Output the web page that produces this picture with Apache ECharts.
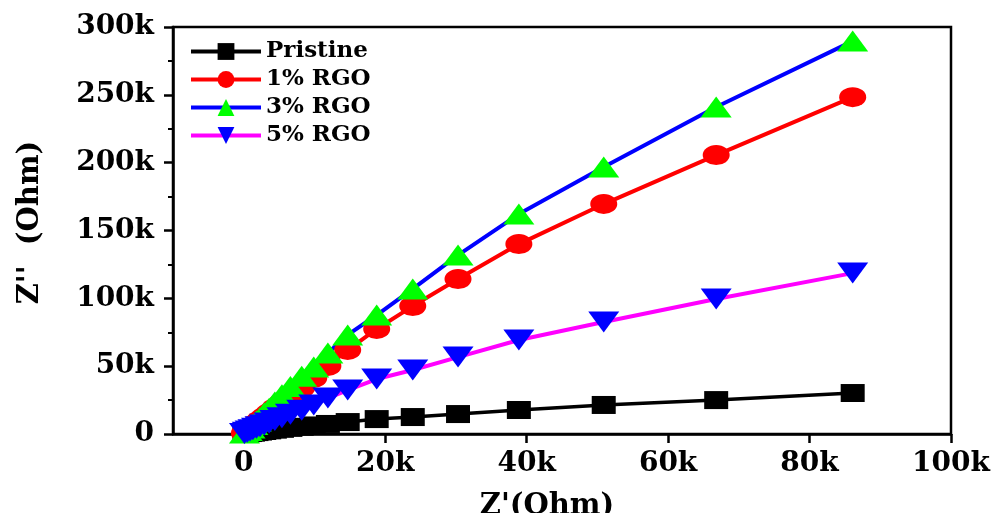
<!DOCTYPE html>
<html>
<head>
<meta charset="utf-8">
<script src="https://cdn.jsdelivr.net/npm/echarts@6/dist/echarts.min.js"></script>
<style>
  html, body { margin: 0; padding: 0; background: #fff; }
  #chart { width: 1000px; height: 513px; }
</style>
</head>
<body>
<div id="chart"></div>
<script>
// Z' values (Ohm), shared by all samples
const zReal = [86100, 66800, 50900, 38900, 30300, 23900, 18800, 14700, 11900, 9900, 8200, 6600, 5400, 4400, 3600, 2900, 2300, 1800, 1300, 900, 500, 100];

// Z'' values (Ohm)
const pristine = [30200, 25000, 21400, 17700, 14700, 12500, 11000, 8800, 7400, 6300, 5300, 4500, 3800, 3200, 2700, 2200, 1800, 1400, 1000, 700, 400, 100];
const rgo1 = [248300, 205600, 169500, 140000, 114200, 94300, 77400, 61900, 50100, 41300, 34000, 28000, 23000, 19000, 15500, 12500, 10000, 7800, 5800, 3800, 2200, 600];
const rgo3 = [289600, 241000, 196800, 162100, 131900, 106900, 87700, 73000, 59700, 49400, 42500, 35000, 29000, 23500, 19000, 15500, 12000, 9500, 7000, 4500, 2500, 800];
const rgo5 = [118600, 99500, 82500, 69300, 56700, 47200, 40500, 32400, 26500, 21400, 17500, 14500, 12000, 10000, 8200, 6700, 5400, 4200, 3100, 2200, 1300, 400];

const seriesNames = ['Pristine', '1% RGO', '3% RGO', '5% RGO'];
const xTicks = [0, 20000, 40000, 60000, 80000, 100000];

const font = 'DejaVu Serif';

function pairs(ys) {
  return zReal.map((x, i) => [x, ys[i]]);
}

function kFmt(v) {
  return v === 0 ? '0' : (v / 1000) + 'k';
}

const chart = echarts.init(document.getElementById('chart'));

chart.setOption({
  backgroundColor: '#fff',
  animation: false,
  grid: {
    left: 173,
    right: 49,
    top: 27,
    bottom: 79,
    outerBoundsMode: 'none',
    containLabel: false,
    show: true,
    borderColor: '#000',
    borderWidth: 2.5
  },
  legend: {
    left: 184,
    top: 35,
    orient: 'vertical',
    itemWidth: 70,
    itemHeight: 21,
    itemGap: 5,
    lineStyle: { width: 4 },
    textStyle: {
      fontFamily: font,
      fontWeight: 'bold',
      fontSize: 23,
      color: '#000'
    },
    data: seriesNames
  },
  xAxis: {
    type: 'value',
    min: -10000,
    max: 100000,
    splitLine: { show: false },
    axisLine: { onZero: false, lineStyle: { color: '#000', width: 2.5 } },
    axisTick: {
      customValues: xTicks,
      length: 9,
      lineStyle: { color: '#000', width: 2.5 }
    },
    axisLabel: {
      customValues: xTicks,
      formatter: kFmt,
      margin: 16,
      fontFamily: font,
      fontWeight: 'bold',
      fontSize: 28,
      color: '#000'
    },
    name: "Z'(Ohm)",
    nameLocation: 'middle',
    nameGap: 58,
    nameTextStyle: {
      fontFamily: font,
      fontWeight: 'bold',
      fontSize: 29,
      color: '#000',
      padding: [0, 30, 0, 0]
    }
  },
  yAxis: {
    type: 'value',
    min: 0,
    max: 300000,
    interval: 50000,
    splitLine: { show: false },
    axisLine: { onZero: false, lineStyle: { color: '#000', width: 2.5 } },
    axisTick: { length: 9, lineStyle: { color: '#000', width: 2.5 } },
    minorTick: { show: true, splitNumber: 2, length: 5, lineStyle: { color: '#000', width: 2 } },
    axisLabel: {
      formatter: kFmt,
      margin: 19,
      fontFamily: font,
      fontWeight: 'bold',
      fontSize: 28,
      color: '#000'
    },
    name: "Z''  (Ohm)",
    nameLocation: 'middle',
    nameRotate: 90,
    nameGap: 128,
    nameTextStyle: {
      fontFamily: font,
      fontWeight: 'bold',
      fontSize: 29,
      color: '#000',
      padding: [0, 0, 0, 16]
    }
  },
  series: [
    {
      name: seriesNames[0],
      type: 'line',
      data: pairs(pristine),
      symbol: 'rect',
      symbolSize: [24, 18],
      lineStyle: { color: '#000', width: 3.5 },
      itemStyle: { color: '#000' }
    },
    {
      name: seriesNames[1],
      type: 'line',
      data: pairs(rgo1),
      symbol: 'circle',
      symbolSize: [27, 20],
      lineStyle: { color: '#ff0000', width: 4 },
      itemStyle: { color: '#ff0000' }
    },
    {
      name: seriesNames[2],
      type: 'line',
      data: pairs(rgo3),
      symbol: 'triangle',
      symbolSize: [31, 21],
      lineStyle: { color: '#0000ff', width: 4 },
      itemStyle: { color: '#00ff00' }
    },
    {
      name: seriesNames[3],
      type: 'line',
      data: pairs(rgo5),
      symbol: 'triangle',
      symbolRotate: 180,
      symbolSize: [31, 21],
      lineStyle: { color: '#ff00ff', width: 4 },
      itemStyle: { color: '#0000ff' }
    }
  ]
});
</script>
</body>
</html>
